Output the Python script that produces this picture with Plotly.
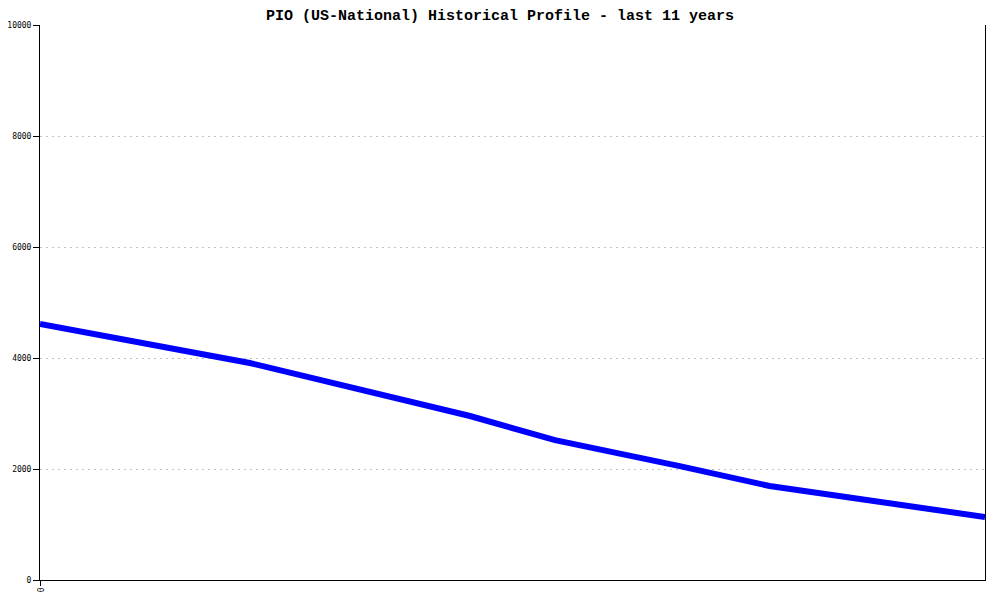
import plotly.graph_objects as go

# position along the 11-year span (0 = start, 10 = end) and the count there
years = [0, 2.22, 4.55, 5.45, 6.77, 7.72, 10]
counts = [4615, 3910, 2955, 2520, 2052, 1694, 1135]

y_ticks = [0, 2000, 4000, 6000, 8000, 10000]
y_labels = ["0", "2000", "4000", "6000", "8000", "10000"]

fig = go.Figure()

fig.add_trace(go.Scatter(
    x=years,
    y=counts,
    mode="lines",
    line=dict(color="#0000ff", width=6),
    showlegend=False,
    hoverinfo="skip",
))

# the page puts the figure 8px in from the top-left corner, margins allow for that
fig.update_layout(
    title=dict(
        text="<b>PIO (US-National) Historical Profile - last 11 years</b>",
        x=0.492, xanchor="center",
        y=1 - 7 / 600, yref="container", yanchor="middle",
        font=dict(family="Liberation Mono", size=15, color="black"),
        automargin=False,
    ),
    width=1000,
    height=600,
    margin=dict(l=32, r=23, t=17, b=28, autoexpand=False),
    plot_bgcolor="white",
    paper_bgcolor="white",
    font=dict(family="DejaVu Sans Mono", size=8, color="black"),
)

fig.update_xaxes(
    range=[0, 10],
    tickvals=[0],
    ticktext=["0"],
    tickangle=90,
    ticks="outside",
    ticklen=5,
    tickcolor="black",
    showline=True,
    linecolor="black",
    linewidth=1,
    showgrid=False,
    zeroline=False,
    automargin=False,
)

fig.update_yaxes(
    range=[0, 10000],
    tickvals=y_ticks,
    ticktext=y_labels,
    ticks="outside",
    ticklen=6,
    tickcolor="black",
    showline=True,
    mirror=True,
    linecolor="black",
    linewidth=1,
    showgrid=True,
    gridcolor="#c0c0c0",
    griddash="2px,4px",
    zeroline=False,
    automargin=False,
)

fig.write_html("out.html")
